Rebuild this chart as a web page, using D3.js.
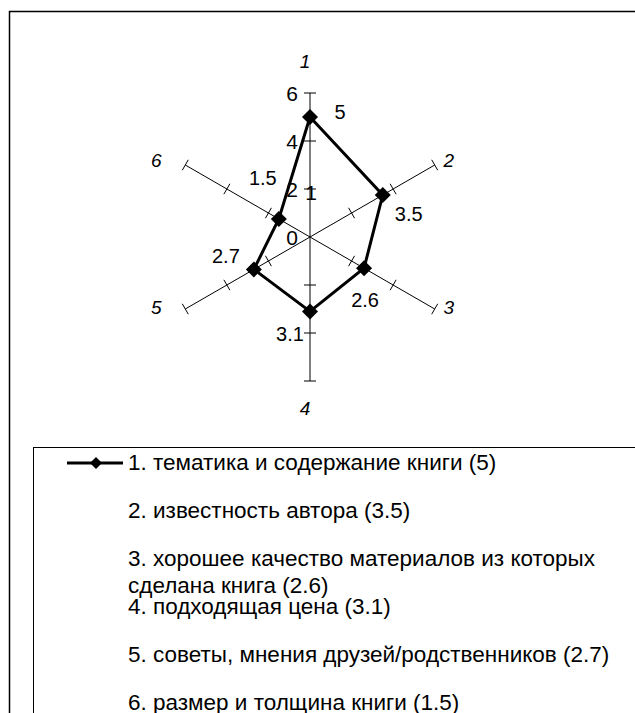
<!DOCTYPE html>
<html>
<head>
<meta charset="utf-8">
<script src="https://cdn.jsdelivr.net/npm/d3@7"></script>
<style>
    body { margin: 0; background: #fff; }
    text { font-family: "Liberation Sans", Arial, sans-serif; fill: #000; }
</style>
</head>
<body>
<div class="mainBody"></div>
<script>
var categories = ["1", "2", "3", "4", "5", "6"];
var values = [5, 3.5, 2.6, 3.1, 2.7, 1.5];
var descriptions = [
    "тематика и содержание книги",
    "известность автора",
    "хорошее качество материалов из которых сделана книга",
    "подходящая цена",
    "советы, мнения друзей/родственников",
    "размер и толщина книги"
];
var tickValues = [0, 2, 4, 6];
var axisTicks = [2, 4, 6];

// nudges for the data labels, the way the original chart placed them
var labelNudge = [[30, -5], [26, 19], [1, 32], [-20, 22], [-28, -14], [-16, -41]];

var width = 635, height = 713;
var cx = 310, cy = 237;
var r = d3.scaleLinear().domain([0, 6]).range([0, 144]);
var angle = d3.scaleLinear().domain([0, categories.length]).range([0, 2 * Math.PI]);

var svg = d3.select("div.mainBody").append("svg")
    .attr("width", width)
    .attr("height", height);

function point(i, v) {
    let a = angle(i);
    return [cx + r(v) * Math.sin(a), cy - r(v) * Math.cos(a)];
}

function diamond(s) {
    return `M0,${-s}L${s},0L0,${s}L${-s},0Z`;
}

function generateFrame() {
    svg.append("rect")
        .attr("x", 9.5).attr("y", 11.5)
        .attr("width", 700).attr("height", 800)
        .attr("fill", "none")
        .attr("stroke", "#000")
        .attr("stroke-width", 1.5);
}

function generateAxes() {
    let g = svg.append("g").attr("class", "axes");
    g.selectAll("line.spoke")
        .data(categories).enter().append("line")
        .attr("class", "spoke")
        .attr("x1", cx).attr("y1", cy)
        .attr("x2", function(d, i) { return point(i, 6)[0]; })
        .attr("y2", function(d, i) { return point(i, 6)[1]; })
        .attr("stroke", "#000")
        .attr("stroke-width", 1);

    categories.forEach(function(c, i) {
        let a = angle(i);
        let px = Math.cos(a), py = Math.sin(a);
        g.selectAll(null)
            .data(axisTicks).enter().append("line")
            .attr("x1", function(t) { return point(i, t)[0] - 6 * px; })
            .attr("y1", function(t) { return point(i, t)[1] - 6 * py; })
            .attr("x2", function(t) { return point(i, t)[0] + 6 * px; })
            .attr("y2", function(t) { return point(i, t)[1] + 6 * py; })
            .attr("stroke", "#000")
            .attr("stroke-width", 1);
    });

    // value labels on the first axis
    g.selectAll("text.tick")
        .data(tickValues).enter().append("text")
        .attr("class", "tick")
        .attr("x", cx - 12)
        .attr("y", function(d) { return cy - r(d); })
        .attr("dy", "0.36em")
        .attr("text-anchor", "end")
        .style("font-size", "21px")
        .text(function(d) { return d; });
    g.append("text")
        .attr("x", cx + 1)
        .attr("y", cy - r(2) + 3)
        .attr("dy", "0.36em")
        .attr("text-anchor", "middle")
        .style("font-size", "21px")
        .text("1");

    // category names
    g.selectAll("text.category")
        .data(categories).enter().append("text")
        .attr("class", "category")
        .attr("x", function(d, i) {
            let e = point(i, 6)[0];
            if (Math.abs(e - cx) < 1) return e - 5;
            return e > cx ? e + 14 : e - 29;
        })
        .attr("y", function(d, i) {
            let e = point(i, 6)[1];
            if (Math.abs(point(i, 6)[0] - cx) < 1) return e < cy ? e - 32 : e + 27;
            return e < cy ? e - 5 : e - 2;
        })
        .attr("dy", "0.36em")
        .attr("text-anchor", "middle")
        .style("font-size", "19px")
        .style("font-style", "italic")
        .text(function(d) { return d; });
}

function generateSeries() {
    let g = svg.append("g").attr("class", "series");
    let pts = values.map(function(v, i) { return point(i, v); });
    g.append("path")
        .datum(pts)
        .attr("d", d3.line().curve(d3.curveLinearClosed))
        .attr("fill", "none")
        .attr("stroke", "#000")
        .attr("stroke-width", 3)
        .attr("stroke-linejoin", "miter");
    g.selectAll("path.marker")
        .data(pts).enter().append("path")
        .attr("class", "marker")
        .attr("transform", function(d) { return `translate(${d[0]},${d[1]})`; })
        .attr("d", diamond(8))
        .attr("fill", "#000");
    g.selectAll("text.value")
        .data(values).enter().append("text")
        .attr("class", "value")
        .attr("x", function(d, i) { return pts[i][0] + labelNudge[i][0]; })
        .attr("y", function(d, i) { return pts[i][1] + labelNudge[i][1]; })
        .attr("dy", "0.36em")
        .attr("text-anchor", "middle")
        .style("font-size", "20px")
        .text(function(d) { return d; });
}

function generateLegend() {
    let g = svg.append("g").attr("class", "legend");
    g.append("rect")
        .attr("x", 33.5).attr("y", 447.5)
        .attr("width", 700).attr("height", 400)
        .attr("fill", "none")
        .attr("stroke", "#000")
        .attr("stroke-width", 1);
    g.append("line")
        .attr("x1", 67).attr("x2", 123)
        .attr("y1", 463).attr("y2", 463)
        .attr("stroke", "#000")
        .attr("stroke-width", 3);
    g.append("path")
        .attr("transform", "translate(96,463)")
        .attr("d", diamond(6))
        .attr("fill", "#000");

    let maxWidth = 495;
    let items = g.selectAll("text.item")
        .data(descriptions).enter().append("text")
        .attr("class", "item")
        .attr("x", 128)
        .attr("y", function(d, i) { return 462 + 48 * i; })
        .attr("dy", "0.36em")
        .style("font-size", "22.5px");
    items.each(function(d, i) {
        let el = d3.select(this);
        let words = `${i + 1}. ${d} (${values[i]})`.split(" ");
        let line = [];
        let tspan = el.append("tspan").attr("x", 128);
        words.forEach(function(w) {
            line.push(w);
            tspan.text(line.join(" "));
            if (tspan.node().getComputedTextLength() > maxWidth && line.length > 1) {
                line.pop();
                tspan.text(line.join(" "));
                line = [w];
                tspan = el.append("tspan").attr("x", 128).attr("dy", 27).text(w);
            }
        });
    });
}

function initialLoad() {
    generateFrame();
    generateAxes();
    generateSeries();
    generateLegend();
}

initialLoad();
</script>
</body>
</html>
